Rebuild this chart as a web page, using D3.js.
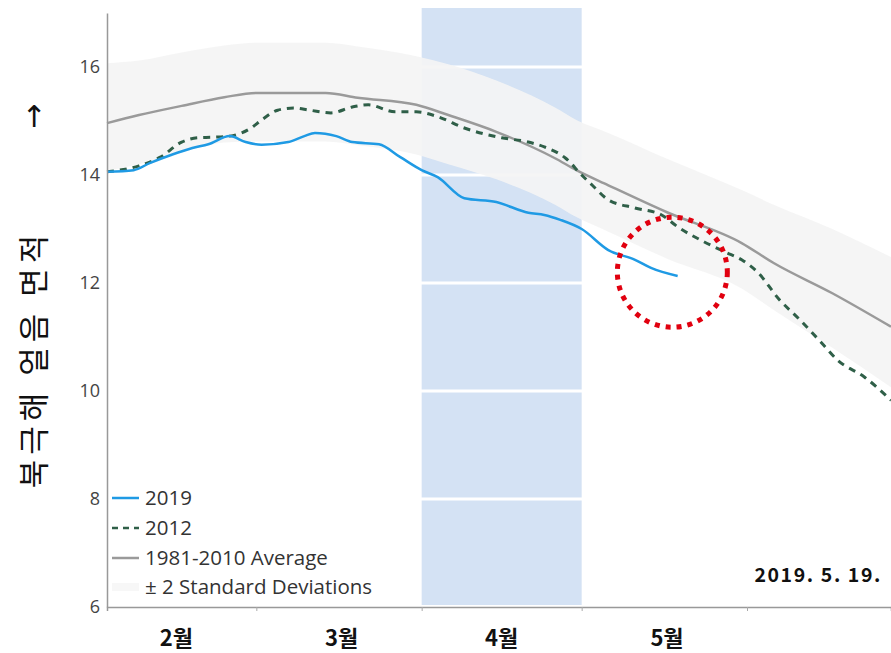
<!DOCTYPE html>
<html>
<head>
<meta charset="utf-8">
<script src="https://cdn.jsdelivr.net/npm/d3@7"></script>
<style>
  body { margin: 0; background: #fff; }
  svg { display: block; }
</style>
</head>
<body>
<div id="chart"></div>
<script>
// sea ice extent (million km2)
var dates2019 = ["2019-02-01", "2019-02-06", "2019-02-09", "2019-02-13", "2019-02-17", "2019-02-20", "2019-02-24",
    "2019-02-27", "2019-03-02", "2019-03-07", "2019-03-10", "2019-03-12", "2019-03-16", "2019-03-19", "2019-03-24",
    "2019-03-28", "2019-04-01", "2019-04-04", "2019-04-09", "2019-04-15", "2019-04-21", "2019-04-24", "2019-04-27",
    "2019-05-01", "2019-05-06", "2019-05-11", "2019-05-14", "2019-05-19"];
var ext2019 = [14.06, 14.09, 14.22, 14.37, 14.5, 14.57, 14.72,
    14.61, 14.56, 14.61, 14.72, 14.78, 14.72, 14.61, 14.57,
    14.33, 14.09, 13.96, 13.57, 13.5, 13.3, 13.26, 13.17,
    13.0, 12.61, 12.43, 12.28, 12.13];

var dates2012 = ["2019-02-01", "2019-02-07", "2019-02-11", "2019-02-15", "2019-02-18", "2019-02-21", "2019-02-24",
    "2019-02-28", "2019-03-02", "2019-03-05", "2019-03-08", "2019-03-11", "2019-03-15", "2019-03-19", "2019-03-22",
    "2019-03-27", "2019-03-31", "2019-04-04", "2019-04-09", "2019-04-16", "2019-04-21", "2019-04-24", "2019-04-28",
    "2019-05-01", "2019-05-03", "2019-05-06", "2019-05-11", "2019-05-16", "2019-05-19", "2019-05-24", "2019-05-28",
    "2019-05-31", "2019-06-03", "2019-06-07", "2019-06-11", "2019-06-15", "2019-06-18", "2019-06-23", "2019-06-28"];
var ext2012 = [14.06, 14.17, 14.33, 14.61, 14.69, 14.7, 14.72,
    14.87, 15.02, 15.2, 15.24, 15.2, 15.15, 15.26, 15.3,
    15.17, 15.17, 15.08, 14.87, 14.69, 14.61, 14.52, 14.31,
    14.0, 13.81, 13.54, 13.39, 13.26, 13.04, 12.76, 12.57,
    12.43, 12.2, 11.7, 11.31, 10.89, 10.57, 10.26, 9.83];

var avgDates = ["2019-02-01", "2019-02-07", "2019-02-15", "2019-02-23", "2019-03-01", "2019-03-14", "2019-03-20",
    "2019-03-31", "2019-04-06", "2019-04-15", "2019-04-26", "2019-04-30", "2019-05-06", "2019-05-17",
    "2019-05-31", "2019-06-06", "2019-06-17", "2019-06-28"];
var avgValues = [14.96, 15.11, 15.28, 15.44, 15.52, 15.52, 15.43,
    15.3, 15.11, 14.8, 14.31, 14.09, 13.81, 13.31,
    12.74, 12.37, 11.81, 11.19];
var sdUpper = [16.07, 16.12, 16.27, 16.4, 16.45, 16.45, 16.38,
    16.2, 16.05, 15.75, 15.25, 15.02, 14.78, 14.3,
    13.72, 13.45, 13.0, 12.48];
var sdLower = [14.08, 14.2, 14.42, 14.6, 14.62, 14.62, 14.55,
    14.38, 14.2, 13.92, 13.45, 13.22, 12.95, 12.45,
    11.9, 11.5, 10.8, 10.07];

var yTicks = [6, 8, 10, 12, 14, 16];
var monthTicks = ["2019-03-01", "2019-04-01", "2019-05-01", "2019-06-01"];
var monthNames = ["2월", "3월", "4월", "5월"];
var monthLabelDates = ["2019-02-14", "2019-03-17", "2019-04-16", "2019-05-17"];
var highlightMonth = ["2019-04-01", "2019-05-01"];
var circleAt = { date: "2019-05-18", value: 12.2 };
var legendNames = ["2019", "2012", "1981-2010 Average", "± 2 Standard Deviations"];

var width = 891;
var height = 653;
var parse = d3.timeParse("%Y-%m-%d");

var svg = d3.select("#chart")
    .append("svg")
    .attr("width", width)
    .attr("height", height);

var xScale = d3.scaleTime()
    .domain([parse("2019-02-01"), parse("2019-06-28")])
    .range([107, 891]);
var yScale = d3.scaleLinear()
    .domain([6, 17])
    .range([607, 13]);

// April highlight
svg.append("rect")
    .attr("x", xScale(parse(highlightMonth[0])))
    .attr("y", 8)
    .attr("width", xScale(parse(highlightMonth[1])) - xScale(parse(highlightMonth[0])))
    .attr("height", yScale(6) - 10)
    .attr("fill", "#d4e2f4");

// white gridlines (only show on the blue block)
svg.selectAll(".grid")
    .data(yTicks.slice(1))
    .enter()
    .append("line")
    .attr("x1", 107)
    .attr("x2", 891)
    .attr("y1", function (d) { return yScale(d); })
    .attr("y2", function (d) { return yScale(d); })
    .attr("stroke", "#fff")
    .attr("stroke-width", 3);

var avgData = avgDates.map(function (d, i) {
    return { t: parse(d), v: avgValues[i], hi: sdUpper[i], lo: sdLower[i] };
});

var band = d3.area()
    .curve(d3.curveMonotoneX)
    .x(function (d) { return xScale(d.t); })
    .y0(function (d) { return yScale(d.lo); })
    .y1(function (d) { return yScale(d.hi); });

svg.append("path")
    .datum(avgData)
    .attr("d", band)
    .attr("fill", "#f4f4f4")
    .attr("opacity", 0.93);

var line = d3.line()
    .curve(d3.curveMonotoneX)
    .x(function (d) { return xScale(d.t); })
    .y(function (d) { return yScale(d.v); });

svg.append("path")
    .datum(avgData)
    .attr("d", line)
    .attr("fill", "none")
    .attr("stroke", "#9a9a9a")
    .attr("stroke-width", 2.5);

svg.append("path")
    .datum(dates2012.map(function (d, i) { return { t: parse(d), v: ext2012[i] }; }))
    .attr("d", line)
    .attr("fill", "none")
    .attr("stroke", "#2f5f48")
    .attr("stroke-width", 3)
    .attr("stroke-dasharray", "7,6");

svg.append("path")
    .datum(dates2019.map(function (d, i) { return { t: parse(d), v: ext2019[i] }; }))
    .attr("d", line)
    .attr("fill", "none")
    .attr("stroke", "#1f9ae4")
    .attr("stroke-width", 2.5);

// red dotted circle
svg.append("circle")
    .attr("cx", xScale(parse(circleAt.date)))
    .attr("cy", yScale(circleAt.value))
    .attr("r", 55)
    .attr("fill", "none")
    .attr("stroke", "#e1000f")
    .attr("stroke-width", 5)
    .attr("stroke-dasharray", "5,6");

// axes
var yAxis = d3.axisLeft(yScale).tickValues(yTicks).tickSize(0).tickPadding(7);
var gy = svg.append("g")
    .attr("transform", "translate(107,0)")
    .call(yAxis);
gy.select(".domain").attr("stroke", "#999").attr("stroke-width", 1.5);
gy.selectAll("text")
    .attr("font-family", "Open Sans")
    .attr("font-size", 18)
    .attr("fill", "#444");

var xAxis = d3.axisBottom(xScale)
    .tickValues(monthTicks.map(parse))
    .tickSize(4)
    .tickFormat("");
var gx = svg.append("g")
    .attr("transform", "translate(0,607)")
    .call(xAxis);
gx.select(".domain").attr("stroke", "#999").attr("stroke-width", 1.5);
gx.selectAll(".tick line").attr("stroke", "#aaa");

svg.selectAll(".month")
    .data(monthNames)
    .enter()
    .append("text")
    .attr("x", function (d, i) { return xScale(parse(monthLabelDates[i])); })
    .attr("y", 646)
    .attr("text-anchor", "middle")
    .attr("font-family", "Noto Sans CJK KR")
    .attr("font-weight", "bold")
    .attr("font-size", 22)
    .attr("fill", "#111")
    .text(function (d) { return d; });

// y title
svg.append("text")
    .attr("transform", "translate(45,359) rotate(-90)")
    .attr("text-anchor", "middle")
    .attr("font-family", "Noto Sans CJK KR")
    .attr("font-size", 31)
    .attr("letter-spacing", 5)
    .attr("fill", "#111")
    .text("북극해 얼음 면적");
svg.append("text")
    .attr("x", 34)
    .attr("y", 127)
    .attr("text-anchor", "middle")
    .attr("font-family", "DejaVu Sans")
    .attr("font-size", 30)
    .attr("fill", "#111")
    .text("↑");

// legend
var legendY = [498, 528, 558, 587];
var lg = svg.selectAll(".legend")
    .data(legendNames)
    .enter()
    .append("g")
    .attr("transform", function (d, i) { return "translate(0," + legendY[i] + ")"; });
lg.append("line")
    .attr("x1", 112)
    .attr("x2", 139)
    .attr("stroke", function (d, i) { return ["#1f9ae4", "#2f5f48", "#9a9a9a", "#f7f7f7"][i]; })
    .attr("stroke-width", function (d, i) { return i == 3 ? 8 : 2.5; })
    .attr("stroke-dasharray", function (d, i) { return i == 1 ? "6,5" : null; });
lg.append("text")
    .attr("x", 145)
    .attr("y", 7)
    .attr("font-family", "Open Sans")
    .attr("font-size", 20.5)
    .attr("fill", "#333")
    .text(function (d) { return d; });

svg.append("text")
    .attr("x", 882)
    .attr("y", 582)
    .attr("text-anchor", "end")
    .attr("font-family", "Noto Sans CJK KR")
    .attr("font-weight", "bold")
    .attr("font-size", 19.5)
    .attr("letter-spacing", 1.6)
    .attr("fill", "#111")
    .text("2019. 5. 19.");
</script>
</body>
</html>
